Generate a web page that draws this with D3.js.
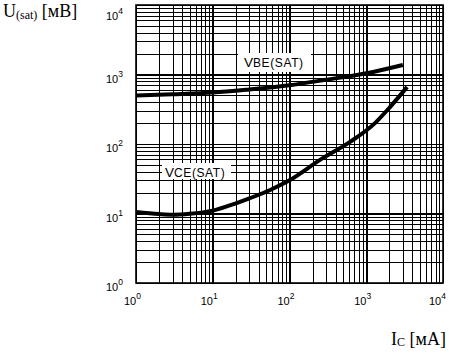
<!DOCTYPE html>
<html lang="ru">
  <head>
    <meta charset="utf-8">
    <title>U(sat) vs Ic</title>
    <script src="https://cdn.jsdelivr.net/npm/d3@7"></script>
    <style>
      body { margin: 0; background: #fff; }
      svg { display: block; }
      .tick-label { font-family: "Liberation Sans", Arial, sans-serif; font-size: 11px; fill: #000; }
      .title { font-family: "Liberation Serif", "Times New Roman", serif; fill: #000; }
      .curve-label { font-family: "Liberation Sans", Arial, sans-serif; fill: #000; }
    </style>
  </head>
  <body>
    <script>

      // current, mA
      var vbeIc = [1, 3, 10, 30, 100, 300, 1000, 3000];
      // base-emitter saturation voltage, mV
      var vbeU = [500, 520, 550, 610, 700, 840, 1040, 1370];

      var vceIc = [1, 2, 3, 5, 10, 20, 30, 56, 100, 250, 614, 1300, 2040, 3400];
      // collector-emitter saturation voltage, mV
      var vceU = [10.5, 9.8, 9.6, 9.9, 11, 14, 16.5, 21.8, 30, 59, 107, 200, 340, 660];

      var decades = [0, 1, 2, 3, 4];

      var w = 449, h = 358;
      var pLeft = 136, pRight = 443, pTop = 5, pBottom = 283;

      var svg = d3.select("body").append("svg")
        .attr("width", w)
        .attr("height", h);

      var xScale = d3.scaleLog().domain([1, 1e4]).range([pLeft, pRight]);
      var yScale = d3.scaleLog().domain([1, 1e4]).range([pBottom, pTop]);

      //Grid, from the log-scale ticks (1..9 per decade)
      var xGrid = d3.axisBottom(xScale).tickValues(xScale.ticks()).tickSize(-(pBottom - pTop)).tickFormat("");
      var yGrid = d3.axisLeft(yScale).tickValues(yScale.ticks()).tickSize(-(pRight - pLeft)).tickFormat("");

      svg.append("g")
        .attr("transform", "translate(0," + pBottom + ")")
        .call(xGrid)
        .call(function(g) { g.select(".domain").remove(); });

      svg.append("g")
        .attr("transform", "translate(" + pLeft + ",0)")
        .call(yGrid)
        .call(function(g) { g.select(".domain").remove(); });

      svg.selectAll(".tick line")
        .attr("stroke", "#000")
        .attr("stroke-width", function(d) {
          var l = Math.log10(d);
          return Math.abs(l - Math.round(l)) < 1e-9 ? 1.6 : 1;
        })
        .attr("shape-rendering", "crispEdges");

      svg.append("rect")
        .attr("x", pLeft).attr("y", pTop)
        .attr("width", pRight - pLeft).attr("height", pBottom - pTop)
        .attr("fill", "none").attr("stroke", "#000").attr("stroke-width", 1.6);

      //Curve labels with white boxes
      function curveLabel(x, y, bx, by, bw, bh, sub) {
        svg.append("rect")
          .attr("x", bx).attr("y", by).attr("width", bw).attr("height", bh)
          .attr("fill", "#fff");
        var t = svg.append("text").attr("class", "curve-label")
          .attr("x", x).attr("y", y);
        t.append("tspan").attr("font-size", "13.5px").text("V");
        t.append("tspan").attr("font-size", "12px").attr("letter-spacing", "0.6px").text(sub);
      }
      curveLabel(244, 67, 238, 53, 73, 19, "BE(SAT)");
      curveLabel(165, 177, 162, 163, 69, 16, "CE(SAT)");

      //Curves
      var line = d3.line()
        .x(function(d) { return xScale(d[0]); })
        .y(function(d) { return yScale(d[1]); })
        .curve(d3.curveMonotoneX);

      svg.append("path")
        .datum(d3.zip(vbeIc, vbeU))
        .attr("fill", "none").attr("stroke", "#000").attr("stroke-width", 4)
        .attr("d", line);

      svg.append("path")
        .datum(d3.zip(vceIc, vceU))
        .attr("fill", "none").attr("stroke", "#000").attr("stroke-width", 4)
        .attr("d", line);

      //Tick labels 10^n
      decades.forEach(function(n) {
        var v = Math.pow(10, n);
        var cx = Math.min(xScale(v) - 4, 437);
        var tx = svg.append("text").attr("class", "tick-label")
          .attr("x", cx - 8).attr("y", 305);
        tx.append("tspan").text("10");
        tx.append("tspan").attr("font-size", "8.5px").attr("dy", -6).text(n);

        var ty = svg.append("text").attr("class", "tick-label")
          .attr("x", 106).attr("y", yScale(v) + (n === 4 ? 15 : 8));
        ty.append("tspan").text("10");
        ty.append("tspan").attr("font-size", "8.5px").attr("dy", -6).text(n);
      });

      //Axis titles
      var yt = svg.append("text").attr("class", "title").attr("x", 3).attr("y", 17).attr("font-size", "18px");
      yt.append("tspan").text("U");
      yt.append("tspan").attr("font-size", "12px").attr("dy", 2).text("(sat)");
      yt.append("tspan").attr("dy", -2).text(" [мВ]");

      var xt = svg.append("text").attr("class", "title").attr("x", 446).attr("y", 345)
        .attr("font-size", "18px").attr("text-anchor", "end");
      xt.append("tspan").text("I");
      xt.append("tspan").attr("font-size", "12px").attr("dy", 1).text("C");
      xt.append("tspan").attr("dy", -1).text(" [мА]");

    </script>
  </body>
</html>
